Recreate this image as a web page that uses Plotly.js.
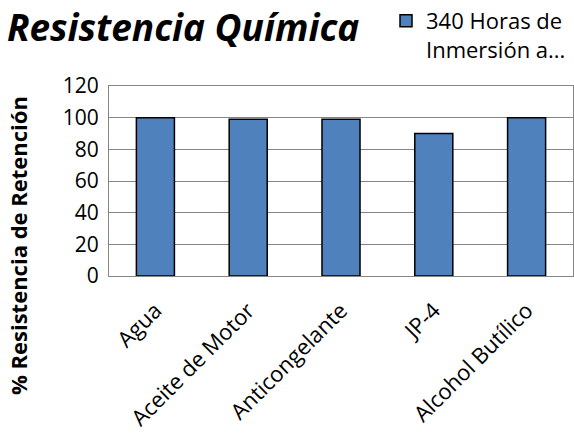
<!DOCTYPE html>
<html><head><meta charset="utf-8">
<script src="https://cdn.plot.ly/plotly-3.0.1.min.js"></script>
<style>html,body{margin:0;padding:0;background:#fff}#c{width:574px;height:433px}</style>
</head><body><div id="c"></div>
<script>
const categories = ["Agua", "Aceite de Motor", "Anticongelante", "JP-4", "Alcohol Butílico"];
const values = [100, 99, 99, 90, 100];
const seriesName = "340 Horas de<br>Inmersión a...";
const yTicks = [0, 20, 40, 60, 80, 100, 120];
const yTitle = "% Resistencia de Retención";
const chartTitle = "Resistencia Química";

const font = "Open Sans, Noto Sans, sans-serif";
Plotly.newPlot("c", [{
  type: "bar", x: categories, y: values, name: seriesName,
  marker: {color: "#4F81BD", line: {color: "#000", width: 1.5}},
  showlegend: true
}], {
  width: 574, height: 433,
  margin: {l: 109, r: 1, t: 86, b: 157},
  paper_bgcolor: "#fff", plot_bgcolor: "#fff",
  bargap: 0.59,
  font: {family: font, color: "#000"},
  title: {text: "<b><i>" + chartTitle + "</i></b>", x: 0.012, xanchor: "left", y: 0.935, yanchor: "middle",
          font: {size: 37, family: font, color: "#000"}},
  xaxis: {type: "category", tickangle: -45, tickfont: {size: 22, color: "#000"}, automargin: false,
          showline: true, linecolor: "#868686", mirror: true, ticks: "", showgrid: false, ticklabelstandoff: 12},
  yaxis: {range: [0, 120], tickvals: yTicks, tickfont: {size: 21, color: "#000"}, automargin: false,
          showgrid: true, gridcolor: "#868686", gridwidth: 1, showline: true, linecolor: "#868686", mirror: true,
          zeroline: false, ticks: "", ticklabelstandoff: 5},
  annotations: [{text: "<b>" + yTitle + "</b>", textangle: -90, xref: "paper", yref: "paper",
                 x: -0.196, y: 0.158, xanchor: "center", yanchor: "middle", showarrow: false,
                 font: {size: 22, color: "#000", family: font}}],
  legend: {x: 0.597, xanchor: "left", y: 1.0, yref: "container", yanchor: "top", font: {size: 22, color: "#000"},
           itemwidth: 30, valign: "top", bgcolor: "rgba(0,0,0,0)"}
}, {staticPlot: true});
</script></body></html>
